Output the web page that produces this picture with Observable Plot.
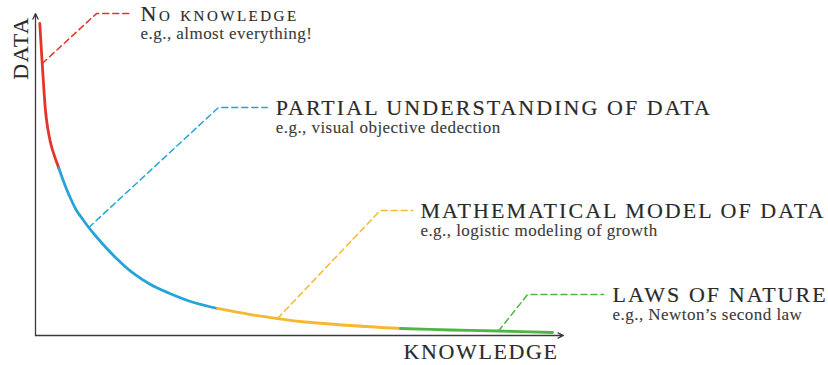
<!DOCTYPE html>
<html><head><meta charset="utf-8">
<script src="https://cdn.jsdelivr.net/npm/d3@7"></script>
<script src="https://cdn.jsdelivr.net/npm/@observablehq/plot@0.6"></script>
<style>
body{margin:0;background:#fff}
svg text {font-family: "Liberation Serif", "DejaVu Serif", serif !important;}
g[aria-description="title"] text {letter-spacing:2.05px}
g[aria-description="title-sc"] text {letter-spacing:2.5px}
g[aria-description="axis-label"] text {letter-spacing:1.6px}
g[aria-description="example"] text {letter-spacing:0.45px}
</style>
</head><body><div id="chart"></div>
<script>
// Curve (knowledge 0–100 along x, data 0–100 along y)
const curveKnowledge = [0.81, 1.04, 1.27, 1.48, 1.67, 1.89, 2.18, 2.56, 3.03, 3.69, 4.41,
  4.41, 5.11, 5.87, 6.82, 7.77, 8.90, 10.09, 11.17, 12.31, 15.15, 18.56, 21.78, 25.0, 29.36, 34.47,
  34.47, 40.72, 45.83, 50.19, 59.66, 69.13,
  69.13, 78.6, 87.69, 97.92];
const curveData = [97.5, 91.25, 85.0, 79.69, 75.0, 70.31, 66.25, 62.5, 59.06, 55.63, 52.34,
  52.34, 49.06, 45.78, 42.19, 39.06, 36.41, 33.75, 31.56, 29.38, 24.38, 19.38, 15.94, 13.44, 10.63, 8.44,
  8.44, 6.56, 5.31, 4.38, 3.13, 2.19,
  2.19, 1.72, 1.41, 0.94];
const curveStage = [
  "none","none","none","none","none","none","none","none","none","none","none",
  "partial","partial","partial","partial","partial","partial","partial","partial","partial","partial","partial","partial","partial","partial","partial",
  "model","model","model","model","model","model",
  "laws","laws","laws","laws"];

const stages = ["none", "partial", "model", "laws"];
const stageColors = ["#e5352a", "#26a4d9", "#f6b731", "#4fb545"];
const titles = ["No knowledge", "PARTIAL UNDERSTANDING OF DATA", "MATHEMATICAL MODEL OF DATA", "LAWS OF NATURE"];
const examples = ["e.g., almost everything!", "e.g., visual objective dedection", "e.g., logistic modeling of growth", "e.g., Newton\u2019s second law"];

// Leader lines: point on curve -> elbow -> end of horizontal dash
const anchorKnowledge = [1.27, 10.09, 45.83, 87.69];
const anchorData = [85.0, 33.75, 5.31, 1.41];
const elbowKnowledge = [11.55, 34.66, 65.3, 93.2];
const elbowData = [100.6, 71.25, 39.06, 12.8];
const leaderEndKnowledge = [18.2, 43.9, 71.4, 107.6];
const labelKnowledge = [19.9, 45.5, 72.9, 109.3];

const axisKnowledge = [0, 100];
const axisData = [0, 100.6];
const axisTitles = ["KNOWLEDGE", "DATA"];
const axisTitleKnowledge = [99.05, -2.78];
const axisTitleData = [-5.0, 89.8];

const curveRows = curveKnowledge.map((k, i) => ({knowledge: k, data: curveData[i], stage: curveStage[i]}));
const leaderRows = stages.flatMap((s, i) => [
  {stage: s, knowledge: anchorKnowledge[i], data: anchorData[i]},
  {stage: s, knowledge: elbowKnowledge[i], data: elbowData[i]},
  {stage: s, knowledge: leaderEndKnowledge[i], data: elbowData[i]}
]);
const labelRows = stages.map((s, i) => ({stage: s, title: titles[i], example: examples[i], knowledge: labelKnowledge[i], data: elbowData[i]}));
const axisRows = [
  {x1: axisKnowledge[0], y1: axisData[0], x2: axisKnowledge[1], y2: axisData[0]},
  {x1: axisKnowledge[0], y1: axisData[0], x2: axisKnowledge[0], y2: axisData[1]}
];

const serif = "Liberation Serif, DejaVu Serif, serif";
const ink = "#2a2a2a";

const chart = Plot.plot({
  width: 828, height: 365,
  marginLeft: 35, marginRight: 265, marginTop: 15, marginBottom: 30,
  x: {domain: [0, 100], axis: null},
  y: {domain: [0, 100], axis: null},
  color: {domain: stages, range: stageColors},
  style: {background: "white", fontFamily: serif, overflow: "visible"},
  marks: [
    Plot.arrow(axisRows, {x1: "x1", y1: "y1", x2: "x2", y2: "y2", stroke: "#3a3a3a", strokeWidth: 1.3, headLength: 7, headAngle: 50}),
    Plot.line(curveRows, {x: "knowledge", y: "data", z: "stage", stroke: "stage", strokeWidth: 2.8, curve: "catmull-rom"}),
    Plot.line(leaderRows, {x: "knowledge", y: "data", z: "stage", stroke: "stage", strokeWidth: 1.5, strokeDasharray: "6,4"}),
    Plot.text(labelRows.slice(1), {x: "knowledge", y: "data", text: "title", textAnchor: "start", fontSize: 22, fontFamily: serif, fill: ink, stroke: ink, strokeWidth: 0.15, ariaDescription: "title"}),
    Plot.text(labelRows.slice(0, 1), {x: "knowledge", y: "data", text: "title", textAnchor: "start", fontSize: 22, fontFamily: serif, fontVariant: "small-caps", fill: ink, stroke: ink, strokeWidth: 0.15, ariaDescription: "title-sc"}),
    Plot.text(labelRows, {x: "knowledge", y: "data", text: "example", textAnchor: "start", dy: 20, fontSize: 17, fontFamily: serif, fill: "#3a3a3a", stroke: "#3a3a3a", strokeWidth: 0.1, ariaDescription: "example"}),
    Plot.text(axisTitles.slice(0, 1), {x: axisTitleKnowledge.slice(0, 1), y: axisTitleData.slice(0, 1), text: d => d, textAnchor: "end", fontSize: 22, fontFamily: serif, fill: ink, stroke: ink, strokeWidth: 0.15, ariaDescription: "axis-label"}),
    Plot.text(axisTitles.slice(1), {x: axisTitleKnowledge.slice(1), y: axisTitleData.slice(1), text: d => d, rotate: -90, textAnchor: "middle", fontSize: 22, fontFamily: serif, fill: ink, stroke: ink, strokeWidth: 0.15, ariaDescription: "axis-label"})
  ]
});
document.getElementById("chart").appendChild(chart);
</script>
</body></html>
